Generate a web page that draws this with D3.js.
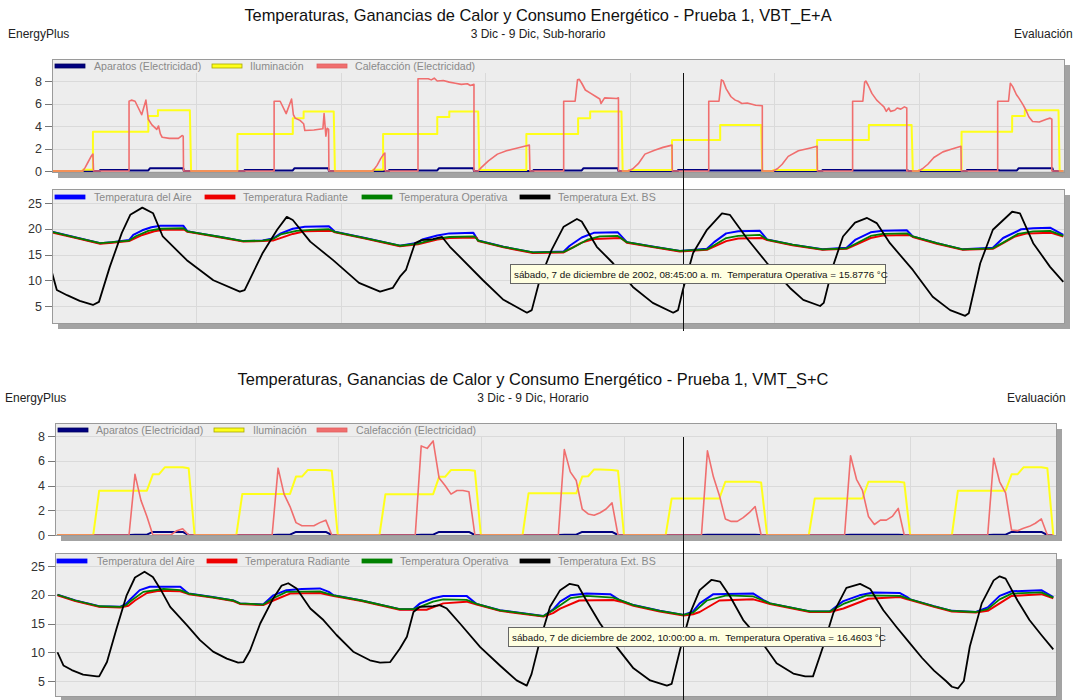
<!DOCTYPE html>
<html>
<head>
<meta charset="utf-8">
<script src="https://cdn.jsdelivr.net/npm/d3@7"></script>
<style>
  body { margin: 0; background: #fff; }
  svg { font-family: "Liberation Sans", Arial, sans-serif; }
</style>
</head>
<body>
<svg id="chart" width="1073" height="700"></svg>
<script>

// ---------- text ----------
const energyLegend = ['Aparatos (Electricidad)', 'Iluminación', 'Calefacción (Electricidad)']
const tempLegend = ['Temperatura del Aire', 'Temperatura Radiante', 'Temperatura Operativa', 'Temperatura Ext. BS']
const energyTicks = [0, 2, 4, 6, 8]
const tempTicks = [5, 10, 15, 20, 25]
const dayTicks = [24, 48, 72, 96, 120, 144]

// ---------- top chart, sub-hourly : [hour since 3 Dic 00:00, value] ----------
const topAparatos = [[0,0],[8,0],[8,0.1],[12.8,0.1],[12.8,0.05],[16,0.05],[16.3,0.25],[21.8,0.25],[21.9,0],
  [32,0],[32,0.1],[36.8,0.1],[36.8,0.05],[40,0.05],[40.3,0.25],[45.9,0.25],[46,0],
  [56,0],[56,0.1],[60.8,0.1],[60.8,0.05],[64,0.05],[64.3,0.25],[70,0.25],[70.1,0],
  [80,0],[80,0.1],[85,0.1],[85,0.05],[88,0.05],[88.3,0.25],[94,0.25],[94.1,0],
  [104,0],[104,0.1],[109,0.1],[109,0.05],[118,0.05],[118.1,0],
  [128,0],[128,0.1],[133,0.1],[133,0.05],[142.2,0.05],[142.3,0],
  [152,0],[152,0.1],[157.3,0.1],[157.3,0.05],[160.3,0.05],[160.6,0.25],[166.2,0.25],[166.3,0],[168,0]]

const topIluminacion = [[0,0],[5.1,0],[5.1,0.12],[6.8,0.12],[6.8,3.5],[16,3.5],[16,4.9],[17.6,4.9],[17.6,5.4],[22.9,5.4],[23.1,0],
  [30.8,0],[30.8,3.3],[40,3.3],[40,4.7],[41.8,4.7],[41.8,5.3],[46.8,5.3],[47,0],
  [53.3,0],[53.3,0.12],[55,0.12],[55,3.3],[64,3.3],[64,4.8],[66,4.8],[66,5.3],[70.8,5.3],[71,0.1],
  [78.8,0.1],[78.8,3.3],[87.4,3.3],[87.4,4.7],[89.4,4.7],[89.4,5.3],[94.6,5.3],[94.8,0],
  [95.8,0],[95.8,0.1],[103,0.1],[103,2.75],[111,2.75],[111,4.1],[117.8,4.1],[118,0],
  [119.8,0],[119.8,0.1],[127.1,0.1],[127.1,2.75],[135.7,2.75],[135.7,4.1],[142.8,4.1],[143,0],
  [144,0],[144,0.1],[151.1,0.1],[151.1,3.5],[159.5,3.5],[159.5,4.9],[161.6,4.9],[161.6,5.4],[167.2,5.4],[167.4,0],[168,0]]

const topCalefaccion = [[0,0],[5.1,0],[5.5,0.3],[6,0.8],[6.5,1.3],[6.8,1.5],[6.9,0],
  [12.8,0],[12.8,6.2],[13.2,6.3],[13.8,6.2],[14.9,5.0],[15.6,6.3],[16,4.6],[16.6,4.1],[17,3.9],[17.4,3.7],[17.7,4.0],[18,3.3],[18.3,3.0],[19.5,2.9],[21,2.9],[21.6,3.15],[21.8,3.1],[21.85,0],
  [36.9,0],[36.9,6.2],[37.9,6.2],[38.9,5.1],[39.8,6.4],[40.1,5.0],[40.4,4.7],[41.2,4.5],[41.8,4.2],[42,3.6],[43.5,3.65],[45,3.75],[45.2,5.1],[45.5,3.1],[45.7,3.8],[45.95,3.7],[46,0],
  [53.3,0],[54,0.5],[54.6,1.1],[55.1,1.5],[55.3,1.6],[55.35,0],
  [60.8,0],[60.8,8.2],[62.5,8.2],[63,8.1],[63.5,8.25],[64,8.0],[65,8.05],[66,7.9],[67,7.8],[68,7.7],[69,7.75],[69.5,7.6],[70.1,7.7],[70.1,0],
  [70.8,0],[71.3,0.3],[72.5,0.9],[74,1.5],[75.5,1.8],[77,2.0],[78.5,2.2],[79.3,2.3],[79.4,0],
  [85,0],[85,6.2],[86.9,6.2],[87.3,8.1],[87.6,8.15],[88,7.8],[88.6,7.2],[89.5,6.9],[90.4,6.6],[91,6.4],[91.2,6.0],[91.8,6.5],[93.8,6.45],[94.1,6.5],[94.1,0],
  [95.8,0],[96.5,0.2],[97.4,0.65],[98.5,1.5],[100.1,1.85],[101.5,2.1],[103,2.3],[103.05,0],
  [109.1,0],[109.1,6.2],[110.8,6.2],[111.2,8.1],[111.5,8.0],[112,7.3],[112.8,6.6],[113.5,6.3],[114,6.2],[114.6,6.0],[115.5,6.05],[116.9,5.85],[118,5.8],[118,0],
  [119.8,0],[120.5,0.2],[121.3,0.6],[122.3,1.3],[124,1.8],[126,2.05],[127.1,2.2],[127.15,0],
  [133,0],[133,6.2],[134.7,6.2],[135,7.9],[135.2,8.0],[135.6,7.6],[136.2,6.9],[137,6.3],[137.6,6.0],[138.2,5.7],[138.6,5.3],[139,5.6],[139.3,5.3],[140,5.4],[140.4,5.6],[141,5.5],[141.6,5.7],[142,5.6],[142,0],
  [144,0],[144.6,0.2],[145.5,0.6],[146.5,1.2],[148,1.7],[149.5,1.95],[151,2.2],[151.05,0],
  [157.1,0],[157.1,6.2],[158.9,6.2],[159.2,7.8],[159.6,7.5],[160.2,6.8],[160.6,6.5],[161.3,5.9],[161.8,5.4],[162.3,4.8],[162.9,4.4],[164,4.35],[165.2,4.6],[165.8,4.7],[166.1,4.6],[166.1,0],[168,0]]

const topAire = [[0,19.4],[4,18.3],[8,17.2],[10,17.4],[12.8,17.8],[13.5,18.8],[15,19.7],[16.5,20.3],[18,20.6],[21.8,20.6],[22.5,19.5],[24,19.2],[28,18.4],[31.8,17.6],[35,17.7],
  [36.7,18.1],[38,19.1],[40,20.0],[42,20.4],[46,20.5],[47,19.4],[52,18.2],[57.8,16.7],[60.8,17.3],[61.5,17.9],[64,18.7],[66,19.1],[70,19.2],[70.8,17.7],[75,16.5],[79.9,15.4],
  [85,15.6],[86,16.7],[88,18.3],[90,19.2],[94,19.3],[95.5,17.4],[100,16.5],[104.3,15.7],[108.8,16.1],[110,17.4],[112,19.1],[114,19.5],[117.6,19.6],[118.8,17.9],[123,16.9],
  [128,16.0],[132,16.3],[133.5,17.9],[136,19.3],[138,19.6],[142,19.7],[143,18.5],[147,17.2],[151.3,16.0],[156.3,16.3],[158,18.2],[161,19.9],[163,20.1],[165.8,20.2],[168,18.8]]

const topRadiante = [[0,19.3],[4,18.2],[8,17.1],[10,17.3],[12.8,17.6],[15,18.8],[17,19.5],[18.5,19.8],[22,19.8],[22.5,19.4],[24,19.1],[28,18.3],[31.8,17.5],[35,17.6],
  [36.7,17.7],[40,19.0],[42,19.5],[46.5,19.6],[47,19.3],[52,18.1],[57.8,16.6],[60.8,17.0],[64,17.9],[66,18.2],[70.5,18.3],[70.8,17.6],[75,16.4],[79.9,15.3],
  [85,15.4],[88,17.3],[90,18.0],[94.5,18.2],[95.5,17.3],[100,16.4],[104.3,15.6],[108.8,15.9],[112,17.6],[114,18.1],[118,18.2],[118.8,17.8],[123,16.8],
  [128,15.9],[132,16.1],[136,18.2],[138,18.7],[142.5,18.8],[143,18.4],[147,17.1],[151.3,15.9],[156.3,16.1],[160,18.5],[162,19.1],[166,19.2],[168,18.5]]

const topOperativa = [[0,19.4],[4,18.3],[8,17.2],[10,17.4],[12.8,17.7],[14,18.6],[16,19.6],[18,20.0],[21.8,20.1],[22.5,19.5],[24,19.2],[28,18.4],[31.8,17.6],[35,17.7],
  [36.7,18.0],[38,18.9],[40.6,19.6],[43,19.8],[46,19.9],[47,19.4],[52,18.2],[57.8,16.7],[60.8,17.1],[62,17.5],[64,18.1],[66,18.4],[70.2,18.5],[70.8,17.7],[75,16.5],[79.9,15.4],
  [85,15.5],[86.5,16.3],[89,17.9],[91,18.5],[94,18.6],[95.5,17.4],[100,16.5],[104.3,15.7],[108.8,16.0],[110,16.8],[112,18.2],[114,18.6],[117.6,18.8],[118.8,17.9],[123,16.9],
  [128,16.0],[132,16.2],[133.5,17.1],[136,18.6],[138,19.0],[142,19.1],[143,18.5],[147,17.2],[151.3,16.0],[156.3,16.2],[158,17.3],[160.5,19.0],[163,19.5],[165.8,19.6],[168,18.6]]

const topExterior = [[0,11.5],[0.8,8.1],[2.5,7.1],[4.6,6.0],[6.8,5.2],[7.8,5.8],[9.6,12.6],[11.6,19.2],[13,22.7],[15,24.1],[16.8,23],[18.4,18.5],[22.4,13.9],
  [26.8,10.0],[31.2,7.8],[32,8.1],[35,15.3],[37.4,19.8],[39,22.3],[40,21.7],[42.9,17.5],[46.7,13.9],[51,9.5],[54.5,7.8],[56.6,8.5],[57.8,10.7],[58.8,12],
  [60.3,17.2],[61.4,17.8],[63.3,18],[64.8,18.4],[66.1,16.5],[71.6,10.0],[75,6.2],[78.9,3.7],[79.7,4.2],[81,10],[83,15.9],[85,20.4],[87.2,21.9],[88,21.4],
  [90.5,16.5],[93.2,13.3],[96.5,8.7],[99.8,5.6],[103.2,3.7],[104,4.2],[104.8,8.1],[106.5,15.3],[108.8,19.8],[111.3,23],[112.6,22.7],[115.4,18.2],[118.8,13.3],
  [122.6,8.5],[124.8,6.2],[127.6,5.0],[128.2,5.6],[129.7,12.6],[131.4,18.5],[133.4,21.2],[135.4,22.1],[137,21.1],[139.2,17.2],[143,12],[146.3,6.8],[149.2,4.2],
  [151.7,3.1],[152.3,3.6],[154.2,13.3],[156.3,19.8],[159.5,23.3],[160.8,23],[163,17.2],[165.8,12.6],[168,9.7]]

// ---------- bottom chart, hourly : one value per hour, 01:00 .. 24:00 each day ----------
const botAparatos = [
  0,0,0,0,0,0,0,0,0,0,0,0,0,0.03,0.03,0.03,0.25,0.25,0.25,0.25,0.25,0.25,0,0,
  0,0,0,0,0,0,0,0,0,0,0,0,0,0.03,0.03,0.03,0.25,0.25,0.25,0.25,0.25,0.25,0,0,
  0,0,0,0,0,0,0,0,0,0,0,0,0,0.03,0.03,0.03,0.25,0.25,0.25,0.25,0.25,0.25,0,0,
  0,0,0,0,0,0,0,0,0,0,0,0,0,0.03,0.03,0.03,0.25,0.25,0.25,0.25,0.25,0.25,0,0,
  0,0,0,0,0,0,0,0,0,0,0,0,0,0.03,0.03,0.03,0.03,0.03,0.03,0.03,0.03,0.03,0,0,
  0,0,0,0,0,0,0,0,0,0,0,0,0,0.03,0.03,0.03,0.03,0.03,0.03,0.03,0.03,0.03,0,0,
  0,0,0,0,0,0,0,0,0,0,0,0,0,0.03,0.03,0.03,0.25,0.25,0.25,0.25,0.25,0.25,0,0]

const botIluminacion = [
  0,0,0,0,0,0,0,3.58,3.58,3.58,3.58,3.58,3.58,3.58,3.58,3.58,4.9,4.9,5.47,5.47,5.47,5.47,5.4,0,
  0,0,0,0,0,0,0,3.32,3.32,3.32,3.32,3.32,3.32,3.32,3.32,3.32,4.72,4.72,5.26,5.26,5.26,5.26,5.2,0,
  0,0,0,0,0,0,0,3.3,3.3,3.3,3.3,3.3,3.3,3.3,3.3,3.3,4.7,4.7,5.25,5.25,5.25,5.25,5.2,0,
  0,0,0,0,0,0,0,3.37,3.37,3.37,3.37,3.37,3.37,3.37,3.37,3.37,4.72,4.75,5.3,5.3,5.28,5.25,5.2,0,
  0,0,0,0,0,0,0,2.95,2.95,2.95,2.95,2.95,2.95,2.95,2.95,2.95,4.3,4.3,4.3,4.3,4.3,4.3,4.25,0,
  0,0,0,0,0,0,0,2.95,2.95,2.95,2.95,2.95,2.95,2.95,2.95,2.95,4.3,4.3,4.3,4.3,4.3,4.3,4.25,0,
  0,0,0,0,0,0,0,3.58,3.58,3.58,3.58,3.58,3.58,3.58,3.58,3.58,4.9,4.9,5.47,5.47,5.47,5.47,5.4,0]

const botCalefaccion = [
  0,0,0,0,0,0,0,0,0,0,0,0,0,4.9,2.8,1.5,0,0,0,0,0.35,0.5,0,0,
  0,0,0,0,0,0,0,0,0,0,0,0,0,5.4,3.3,2.3,1.0,0.75,0.75,0.75,1.0,1.2,0,0,
  0,0,0,0,0,0,0,0,0,0,0,0,0,7.2,7.0,7.6,4.6,4.0,3.3,3.6,3.6,3.5,0,0,
  0,0,0,0,0,0,0,0,0,0,0,0,0,6.9,5.1,4.4,2.1,1.7,1.6,1.8,2.1,2.6,0,0,
  0,0,0,0,0,0,0,0,0,0,0,0,0,6.8,4.7,3.2,1.3,1.1,1.1,1.4,1.8,2.3,0,0,
  0,0,0,0,0,0,0,0,0,0,0,0,0,6.4,4.5,3.6,1.5,0.85,1.2,1.2,1.5,2.15,0,0,
  0,0,0,0,0,0,0,0,0,0,0,0,0,6.2,4.3,3.4,0.4,0.35,0.55,0.7,0.95,1.3,0,0]

const botAire = [[1,20.0],[4,19.0],[8,18.0],[11.5,17.9],[12.5,18.4],[13.4,19.4],[14.8,20.8],[16.5,21.4],[21.6,21.4],[22.5,20.6],[23,20.2],[27,19.6],[30.5,19.0],[31.6,18.5],[35.5,18.3],
  [37.2,19.9],[39.4,20.8],[42,21.0],[45,21.1],[46.5,20.5],[47.3,19.9],[52,19.0],[58.4,17.5],[60.7,17.5],[61.8,18.5],[64,19.4],[65.7,19.8],[69.6,19.8],[71.3,18.4],[75.2,17.3],
  [82.5,16.3],[84.1,17.4],[85.3,18.8],[87,19.9],[89.7,20.2],[93.7,20.1],[95.4,19.0],[97.6,18.2],[102,17.2],[106,16.5],[107.6,17.1],[108.7,18.5],[111,20.1],[117.7,20.2],[119.5,19.0],
  [120.5,18.5],[127.2,17.1],[130.5,17.1],[132.8,18.9],[135.5,19.9],[137.8,20.4],[142.3,20.3],[143.5,19.6],[144,19.2],[148,18.0],[151,17.2],[155,17.0],[157,17.8],[159,19.8],[161,20.6],[166,20.8],[168,19.6]]

const botRadiante = [[1,19.9],[4,18.9],[8,17.9],[11.5,17.8],[12.9,18.1],[14,19.0],[16,20.3],[18,20.7],[21.6,20.6],[23,20.1],[27,19.5],[30.5,18.9],[31.6,18.4],[35.5,18.2],
  [37.2,19.0],[40,20.2],[45,20.3],[47.3,19.8],[52,18.9],[58.4,17.4],[60.7,17.4],[62.9,17.4],[65.7,18.5],[69.6,18.8],[71.3,18.3],[75.2,17.2],
  [82.5,16.2],[84.1,16.8],[85.3,17.6],[88.5,19.0],[94.2,19.1],[95.5,18.8],[97.6,18.1],[102,17.1],[106,16.4],[107.6,16.6],[108.7,17.0],[112,19.0],[117.7,19.2],[119.5,18.7],
  [120.5,18.4],[127.2,17.0],[130.5,17.0],[132.8,17.6],[137,19.3],[142.3,19.6],[143.5,19.2],[144,19.1],[148,17.9],[151,17.1],[155,16.9],[157,17.2],[161,19.8],[166,20.1],[168,19.4]]

const botOperativa = [[1,20.0],[4,19.0],[8,18.0],[11.5,17.9],[12.5,18.2],[13.4,19.0],[15.4,20.5],[18.8,21.0],[21.6,20.8],[23,20.2],[27,19.6],[30.5,19.0],[31.6,18.5],[35.5,18.3],
  [37.2,19.4],[39.4,20.5],[45,20.6],[47.3,19.9],[52,19.0],[58.4,17.5],[60.7,17.5],[61.8,17.9],[64,18.8],[65.7,19.2],[69.6,19.1],[71.3,18.4],[75.2,17.3],
  [82.5,16.3],[84.1,17.3],[87,19.4],[89.7,19.8],[94.2,19.5],[97.6,18.2],[102,17.2],[106,16.5],[107.6,16.9],[109.9,19.0],[113.2,19.9],[117.7,19.7],
  [120.5,18.5],[127.2,17.1],[130.5,17.1],[132.8,18.4],[136.7,19.9],[142.3,19.8],[144,19.2],[148,18.0],[151,17.2],[155,17.0],[157,17.5],[159,19.2],[161,20.2],[166,20.4],[168,19.5]]

const botExterior = [[1,10.0],[2,7.7],[3.4,6.9],[5.3,6.1],[7.6,5.8],[8,5.8],[9.3,8.3],[10.9,14.1],[12.6,19.9],[14,23.0],[15.6,24.0],[17,23.1],[18.2,21.1],[19.9,17.9],[22.7,14.7],
  [24.9,12.1],[27.1,10.1],[29.4,8.9],[31.3,8.2],[32.2,8.3],[33.3,10.3],[35,15.0],[37.2,19.4],[38.6,21.6],[39.7,22.0],[41.1,21.1],[43.4,17.6],[45.6,15.6],[47.8,13.0],
  [50.6,10.1],[53.4,8.6],[55.1,8.2],[56.8,8.3],[58.4,10.6],[59.6,12.7],[60.7,17.0],[61.8,17.9],[64,18.0],[65.1,18.2],[66.3,17.6],[68.5,15.0],[71.9,10.9],[75.2,7.7],
  [78,5.1],[79.7,4.2],[80.5,6.2],[81.9,12.0],[83.6,17.9],[85.3,20.8],[86.9,21.9],[88.3,21.6],[89.7,19.0],[92,15.0],[94.8,10.9],[97.6,7.2],[100.4,5.1],[103.2,4.2],
  [104,4.5],[105.4,10.4],[107.1,16.8],[108.7,20.8],[110.7,22.6],[112.1,22.3],[113.8,19.7],[116,15.6],[118.8,12.2],[121.6,8.1],[124.4,6.3],[126.4,5.8],[127.7,5.8],
  [129.4,11.0],[131.1,16.8],[133.3,21.2],[135.6,21.9],[137.3,21.0],[139.5,17.3],[141.7,14.4],[144,11.5],[146,9],[148,6.8],[150,5.0],[151,4.0],[152,3.7],[153,5],
  [154,11],[156,18.5],[158,22.5],[159,23.2],[160,22.8],[162,19],[164,15.6],[166,13],[168,10.5]]

// hourly arrays -> [hour, value]
const hourly = arr => arr.map((v, i) => [i + 1, v])

const energyColors = ['#000080', '#ffff1a', '#f06e6e']
const energySwatchStroke = ['#000060', '#a8a800', '#e06060']
const tempColors = ['#0000ff', '#ee0000', '#008000', '#000000']

const svg = d3.select('#chart')

function drawPanel(g, p) {
  const w = p.x1 - p.x0
  const h = p.y1 - p.y0

  // shadow + frame
  g.append('rect')
    .attr('x', p.x0 + 6).attr('y', p.y0 + 6)
    .attr('width', w).attr('height', h)
    .attr('fill', '#a3a3a3')
  g.append('rect')
    .attr('x', p.x0).attr('y', p.y0)
    .attr('width', w).attr('height', h)
    .attr('fill', '#ededed')

  // grid
  g.append('g').selectAll('line')
    .data(p.ticks)
    .enter().append('line')
    .attr('x1', p.x0).attr('x2', p.x1)
    .attr('y1', d => Math.round(p.y(d)) + 0.5).attr('y2', d => Math.round(p.y(d)) + 0.5)
    .attr('stroke', '#dadada')
  g.append('g').selectAll('line')
    .data(dayTicks)
    .enter().append('line')
    .attr('x1', d => Math.round(p.x(d)) + 0.5).attr('x2', d => Math.round(p.x(d)) + 0.5)
    .attr('y1', p.y0 + 14).attr('y2', p.y1)
    .attr('stroke', '#dadada')

  // y axis ticks
  const ax = g.append('g')
  ax.selectAll('line')
    .data(p.ticks)
    .enter().append('line')
    .attr('x1', p.x0 - 7).attr('x2', p.x0)
    .attr('y1', d => Math.round(p.y(d)) + 0.5).attr('y2', d => Math.round(p.y(d)) + 0.5)
    .attr('stroke', '#777')
  ax.selectAll('text')
    .data(p.ticks)
    .enter().append('text')
    .attr('x', p.x0 - 10)
    .attr('y', d => p.y(d) + 4.5)
    .attr('text-anchor', 'end')
    .attr('font-size', 12.5)
    .attr('fill', '#333')
    .text(d => d)

  // series
  const clipId = 'clip' + Math.round(p.y0)
  g.append('clipPath').attr('id', clipId)
    .append('rect')
    .attr('x', p.x0).attr('y', p.y0)
    .attr('width', w).attr('height', h + 1)

  const line = d3.line()
    .x(d => p.x(d[0]))
    .y(d => p.y(d[1]))

  g.append('g')
    .attr('clip-path', `url(#${clipId})`)
    .selectAll('path')
    .data(p.series)
    .enter().append('path')
    .attr('d', d => line(d.values))
    .attr('fill', 'none')
    .attr('stroke', d => d.color)
    .attr('stroke-width', d => d.width)
    .attr('stroke-linejoin', 'round')

  // frame border on top
  g.append('rect')
    .attr('x', p.x0 + 0.5).attr('y', p.y0 + 0.5)
    .attr('width', w).attr('height', h)
    .attr('fill', 'none')
    .attr('stroke', '#9a9a9a')

  // legend
  const lg = g.append('g')
    .selectAll('g')
    .data(p.legend)
    .enter().append('g')
  lg.append('rect')
    .attr('x', d => d.sx).attr('y', p.legendY - 2)
    .attr('width', 30).attr('height', 4)
    .attr('fill', d => d.color)
    .attr('stroke', d => d.stroke)
    .attr('stroke-width', 0.8)
  lg.append('text')
    .attr('x', d => d.tx).attr('y', p.legendY + 4)
    .attr('font-size', 10.6)
    .attr('fill', '#8a8a8a')
    .text(d => d.label)
}

function drawBlock(b) {
  const g = svg.append('g')

  g.append('text')
    .attr('x', b.centerX).attr('y', b.top + 21)
    .attr('text-anchor', 'middle')
    .attr('font-size', 16.4)
    .attr('fill', '#111')
    .text(b.title)
  g.append('text')
    .attr('x', b.centerX).attr('y', b.top + 38)
    .attr('text-anchor', 'middle')
    .attr('font-size', 12)
    .attr('fill', '#222')
    .text(b.subtitle)
  g.append('text')
    .attr('x', b.leftLabelX).attr('y', b.top + 38)
    .attr('font-size', 12)
    .attr('fill', '#222')
    .text('EnergyPlus')
  g.append('text')
    .attr('x', b.rightLabelX).attr('y', b.top + 38)
    .attr('font-size', 12)
    .attr('fill', '#222')
    .text('Evaluación')

  const x = d3.scaleLinear().domain([0, 168]).range(b.xRange)

  drawPanel(g, {
    x0: b.frameX[0], x1: b.frameX[1], y0: b.energyY[0], y1: b.energyY[1],
    x: x,
    y: d3.scaleLinear().domain([0, 8]).range(b.energyScale),
    ticks: energyTicks,
    legendY: b.energyY[0] + 7,
    legend: energyLegend.map((label, i) => ({ label, color: energyColors[i], stroke: energySwatchStroke[i], sx: b.eLegendX[2 * i], tx: b.eLegendX[2 * i + 1] })),
    series: [
      { values: b.aparatos, color: energyColors[0], width: 2 },
      { values: b.iluminacion, color: energyColors[1], width: 2 },
      { values: b.calefaccion, color: energyColors[2], width: 1.6 }
    ]
  })

  drawPanel(g, {
    x0: b.frameX[0], x1: b.frameX[1], y0: b.tempY[0], y1: b.tempY[1],
    x: x,
    y: d3.scaleLinear().domain([5, 25]).range(b.tempScale),
    ticks: tempTicks,
    legendY: b.tempY[0] + 8,
    legend: tempLegend.map((label, i) => ({ label, color: tempColors[i], stroke: tempColors[i], sx: b.tLegendX[2 * i], tx: b.tLegendX[2 * i + 1] })),
    series: [
      { values: b.aire, color: tempColors[0], width: 2 },
      { values: b.radiante, color: tempColors[1], width: 2 },
      { values: b.operativa, color: tempColors[2], width: 1.8 },
      { values: b.exterior, color: tempColors[3], width: 1.8 }
    ]
  })

  // crosshair
  g.append('line')
    .attr('x1', 683.5).attr('x2', 683.5)
    .attr('y1', b.cross[0]).attr('y2', b.cross[1])
    .attr('stroke', '#111')

  // tooltip
  g.append('rect')
    .attr('x', b.tip[0] + 0.5).attr('y', b.tip[1] + 0.5)
    .attr('width', b.tip[2]).attr('height', b.tip[3])
    .attr('fill', '#ffffe1')
    .attr('stroke', '#666')
  g.append('text')
    .attr('x', b.tip[0] + 4).attr('y', b.tip[1] + 13.5)
    .attr('font-size', 9.8)
    .attr('fill', '#111')
    .style('white-space', 'pre')
    .text(b.tipText)
}

drawBlock({
  top: 0,
  centerX: 538,
  leftLabelX: 8,
  rightLabelX: 1014,
  title: 'Temperaturas, Ganancias de Calor y Consumo Energético - Prueba 1, VBT_E+A',
  subtitle: '3 Dic - 9 Dic, Sub-horario',
  xRange: [52, 1063.3],
  frameX: [52, 1064],
  energyY: [59, 172],
  energyScale: [171, 81],
  tempY: [189, 323],
  tempScale: [306, 203],
  eLegendX: [55, 94, 212, 250, 317, 355],
  tLegendX: [55, 94, 205, 243, 362, 399, 520, 558],
  aparatos: topAparatos,
  iluminacion: topIluminacion,
  calefaccion: topCalefaccion,
  aire: topAire,
  radiante: topRadiante,
  operativa: topOperativa,
  exterior: topExterior,
  cross: [73, 331],
  tip: [510, 264, 375, 19],
  tipText: 'sábado, 7 de diciembre de 2002, 08:45:00 a. m.  Temperatura Operativa = 15.8776 °C'
})

drawBlock({
  top: 364,
  centerX: 533,
  leftLabelX: 5,
  rightLabelX: 1007,
  title: 'Temperaturas, Ganancias de Calor y Consumo Energético - Prueba 1, VMT_S+C',
  subtitle: '3 Dic - 9 Dic, Horario',
  xRange: [51.5, 1053.3],
  frameX: [55, 1056],
  energyY: [423, 535],
  energyScale: [535, 436],
  tempY: [553, 696],
  tempScale: [681, 566],
  eLegendX: [58, 96, 214, 253, 317, 356],
  tLegendX: [57, 97, 207, 245, 362, 400, 520, 558],
  aparatos: hourly(botAparatos),
  iluminacion: hourly(botIluminacion),
  calefaccion: hourly(botCalefaccion),
  aire: botAire,
  radiante: botRadiante,
  operativa: botOperativa,
  exterior: botExterior,
  cross: [437, 700],
  tip: [508, 627, 372, 19],
  tipText: 'sábado, 7 de diciembre de 2002, 10:00:00 a. m.  Temperatura Operativa = 16.4603 °C'
})
</script>
</body>
</html>
